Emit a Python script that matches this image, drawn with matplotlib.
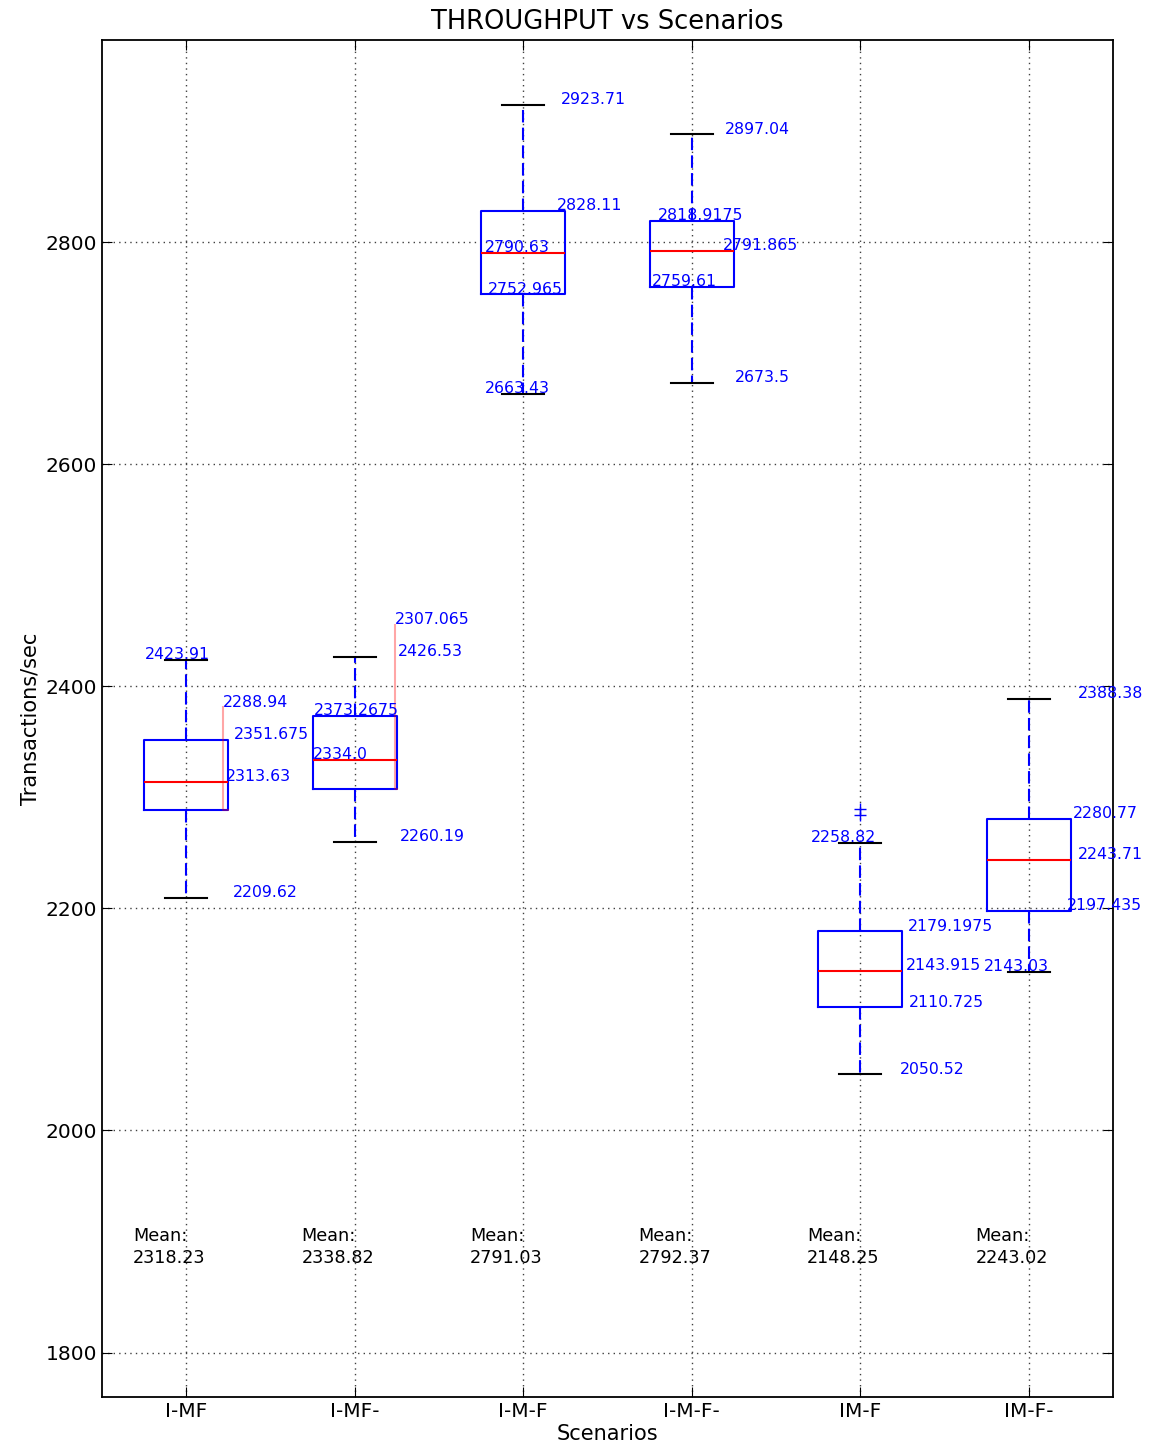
import matplotlib
matplotlib.use('Agg')
import matplotlib.pyplot as plt

# scenario names and box statistics
scenarios = ['I-MF', 'I-MF-', 'I-M-F', 'I-M-F-', 'IM-F', 'IM-F-']
whisker_low = [2209.62, 2260.19, 2663.43, 2673.5, 2050.52, 2143.03]
q1 = [2288.94, 2307.065, 2752.965, 2759.61, 2110.725, 2197.435]
medians = [2313.63, 2334.0, 2790.63, 2791.865, 2143.915, 2243.71]
q3 = [2351.675, 2373.2675, 2828.11, 2818.9175, 2179.1975, 2280.77]
whisker_high = [2423.91, 2426.53, 2923.71, 2897.04, 2258.82, 2388.38]
means = [2318.23, 2338.82, 2791.03, 2792.37, 2148.25, 2243.02]
fliers = [[], [], [], [], [2289.5, 2284.5], []]

# horizontal offset of each value label from its box centre
# (order: high whisker, q3, median, q1, low whisker)
label_dx = [
    [-0.245, 0.283, 0.236, 0.22, 0.277],
    [0.255, -0.243, -0.249, 0.237, 0.267],
    [0.226, 0.20, -0.226, -0.208, -0.226],
    [0.196, -0.20, 0.184, -0.237, 0.255],
    [-0.29, 0.285, 0.273, 0.29, 0.237],
    [0.29, 0.26, 0.29, 0.226, -0.267],
]
# q1 labels of the first two boxes sit higher, with a leader line
q1_label_y = {0: 2381, 1: 2455}

stats = []
for i, name in enumerate(scenarios):
    stats.append({'label': name, 'whislo': whisker_low[i], 'q1': q1[i],
                  'med': medians[i], 'q3': q3[i], 'whishi': whisker_high[i],
                  'fliers': fliers[i]})

fig = plt.figure(figsize=(11.56, 14.55), dpi=100)
ax = fig.add_axes([0.0882, 0.0399, 0.8746, 0.9326])

ax.bxp(stats, positions=range(1, 7), widths=0.5,
       boxprops=dict(color='b', linewidth=1.5),
       whiskerprops=dict(color='b', linestyle='--', linewidth=1.5, dashes=(6, 2.5)),
       capprops=dict(color='k', linewidth=1.5),
       medianprops=dict(color='r', linewidth=1.5),
       flierprops=dict(marker='+', markeredgecolor='b', markersize=9, linestyle='none'))

for i in range(len(scenarios)):
    pos = i + 1
    vals = [whisker_high[i], q3[i], medians[i], q1[i], whisker_low[i]]
    for j, v in enumerate(vals):
        y = v
        if j == 3 and i in q1_label_y:
            y = q1_label_y[i]
            ax.plot([pos + label_dx[i][j], pos + label_dx[i][j], pos + 0.25],
                    [y, v, v], color='r', alpha=0.35, linewidth=1.5)
        ax.text(pos + label_dx[i][j], y - 2, str(v), color='blue', fontsize=11.3,
                va='bottom', ha='left')
    ax.text(pos - 0.316, 1895, 'Mean:\n%.2f' % means[i], fontsize=12.7,
            va='center', ha='left', linespacing=1.3)

ax.set_xlim(0.5, 6.5)
ax.set_ylim(1760, 2982)
ax.set_yticks([1800, 2000, 2200, 2400, 2600, 2800])
ax.set_xticks(range(1, 7))
ax.set_xticklabels(scenarios)
ax.grid(True, color='0.25', linestyle=(0, (1, 3)), linewidth=1)
ax.tick_params(direction='in', top=True, right=True, labelsize=14.5, length=7)
for s in ax.spines.values():
    s.set_linewidth(1.3)

ax.set_title('THROUGHPUT vs Scenarios', fontsize=18.5, pad=8)
ax.set_xlabel('Scenarios', fontsize=15, labelpad=2)
ax.set_ylabel('Transactions/sec', fontsize=15)

fig.savefig('out.png', dpi=100, facecolor='white')
